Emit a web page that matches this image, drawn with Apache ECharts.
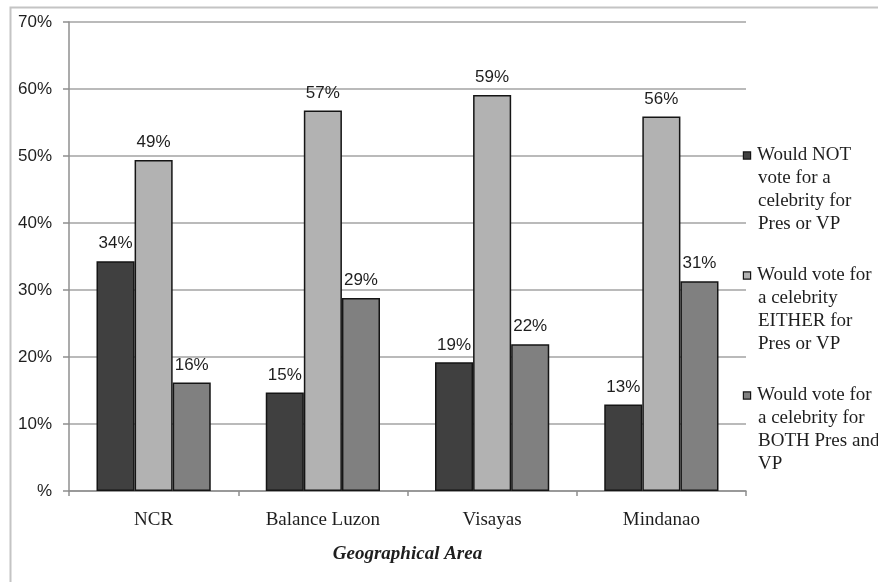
<!DOCTYPE html>
<html>
<head>
<meta charset="utf-8">
<script src="https://cdn.jsdelivr.net/npm/echarts@6/dist/echarts.min.js"></script>
<style>
html,body{margin:0;padding:0;background:#fff;}
#chart{width:878px;height:582px;}
</style>
</head>
<body>
<div id="chart"></div>
<script>
var categories = ['NCR', 'Balance Luzon', 'Visayas', 'Mindanao'];
var seriesNames = [
  'Would NOT\nvote for a\ncelebrity for\nPres or VP',
  'Would vote for\na celebrity\nEITHER for\nPres or VP',
  'Would vote for\na celebrity for\nBOTH Pres and\nVP'
];
var notVote = [34.3, 14.7, 19.2, 12.9];
var eitherVote = [49.4, 56.8, 59.1, 55.9];
var bothVote = [16.2, 28.8, 21.9, 31.3];
var notLabels = ['34%', '15%', '19%', '13%'];
var eitherLabels = ['49%', '57%', '59%', '56%'];
var bothLabels = ['16%', '29%', '22%', '31%'];
var yTicks = ['%', '10%', '20%', '30%', '40%', '50%', '60%', '70%'];
var colors = ['#404040', '#b2b2b2', '#808080'];

var serif = '"Liberation Serif", "DejaVu Serif", serif';
var sans = '"Liberation Sans", "DejaVu Sans", sans-serif';
var textColor = '#1e1e1e';

function makeSeries(idx, data, labels) {
  return {
    name: seriesNames[idx],
    type: 'bar',
    data: data,
    barGap: '0%',
    barCategoryGap: '32.5%',
    itemStyle: { color: colors[idx], borderColor: '#151515', borderWidth: 1.5 },
    label: {
      show: true,
      position: 'top',
      distance: 9,
      fontFamily: sans,
      fontSize: 17,
      color: textColor,
      formatter: function (p) { return labels[p.dataIndex]; }
    }
  };
}

var richBase = {
  t: { fontFamily: serif, fontSize: 19, color: textColor, lineHeight: 23 },
  pad: { width: 14, height: 8 }
};
colors.forEach(function (c, i) {
  richBase['box' + i] = { width: 6, height: 6, backgroundColor: c, borderColor: '#151515', borderWidth: 1.2 };
  richBase['gap' + i] = { width: 7 };
});

var chart = echarts.init(document.getElementById('chart'), null, { renderer: 'canvas' });
chart.setOption({
  backgroundColor: '#ffffff',
  animation: false,
  graphic: [{
    type: 'rect',
    left: 8, top: 5,
    shape: { width: 950, height: 650 },
    style: { fill: 'none', stroke: '#c4c4c4', lineWidth: 2 },
    silent: true,
    z: -1
  }],
  grid: { left: 69, right: 132, top: 22, bottom: 91 },
  legend: {
    orient: 'vertical',
    left: 738,
    top: 144,
    padding: 0,
    itemGap: 28,
    itemWidth: 0,
    itemHeight: 0,
    icon: 'rect',
    selectedMode: false,
    data: seriesNames,
    formatter: function (name) {
      var i = seriesNames.indexOf(name);
      var lines = name.split('\n');
      return lines.map(function (l, k) {
        return k === 0 ? '{box' + i + '|}{gap' + i + '|}{t|' + l + '}' : '{pad|}{t|' + l + '}';
      }).join('\n');
    },
    textStyle: { fontFamily: serif, fontSize: 19, color: textColor, lineHeight: 23, rich: richBase }
  },
  xAxis: {
    type: 'category',
    data: categories,
    name: 'Geographical Area',
    nameLocation: 'middle',
    nameGap: 54,
    nameTextStyle: { fontFamily: serif, fontSize: 19, fontWeight: 'bold', fontStyle: 'italic', color: textColor },
    axisLine: { show: true, lineStyle: { color: '#8f8f8f', width: 1.5 } },
    axisTick: { show: true, length: 5, lineStyle: { color: '#8f8f8f', width: 1.5 } },
    axisLabel: { margin: 20, fontFamily: serif, fontSize: 19, color: textColor }
  },
  yAxis: {
    type: 'value',
    min: 0, max: 70, interval: 10,
    axisLine: { show: true, lineStyle: { color: '#8f8f8f', width: 1.5 } },
    axisTick: { show: true, length: 6, lineStyle: { color: '#8f8f8f', width: 1.5 } },
    splitLine: { show: true, lineStyle: { color: '#a3a3a3', width: 1.5 } },
    axisLabel: {
      margin: 17,
      fontFamily: sans,
      fontSize: 17,
      color: textColor,
      formatter: function (v) { return yTicks[Math.round(v / 10)]; }
    }
  },
  series: [
    makeSeries(0, notVote, notLabels),
    makeSeries(1, eitherVote, eitherLabels),
    makeSeries(2, bothVote, bothLabels)
  ]
});
</script>
</body>
</html>
